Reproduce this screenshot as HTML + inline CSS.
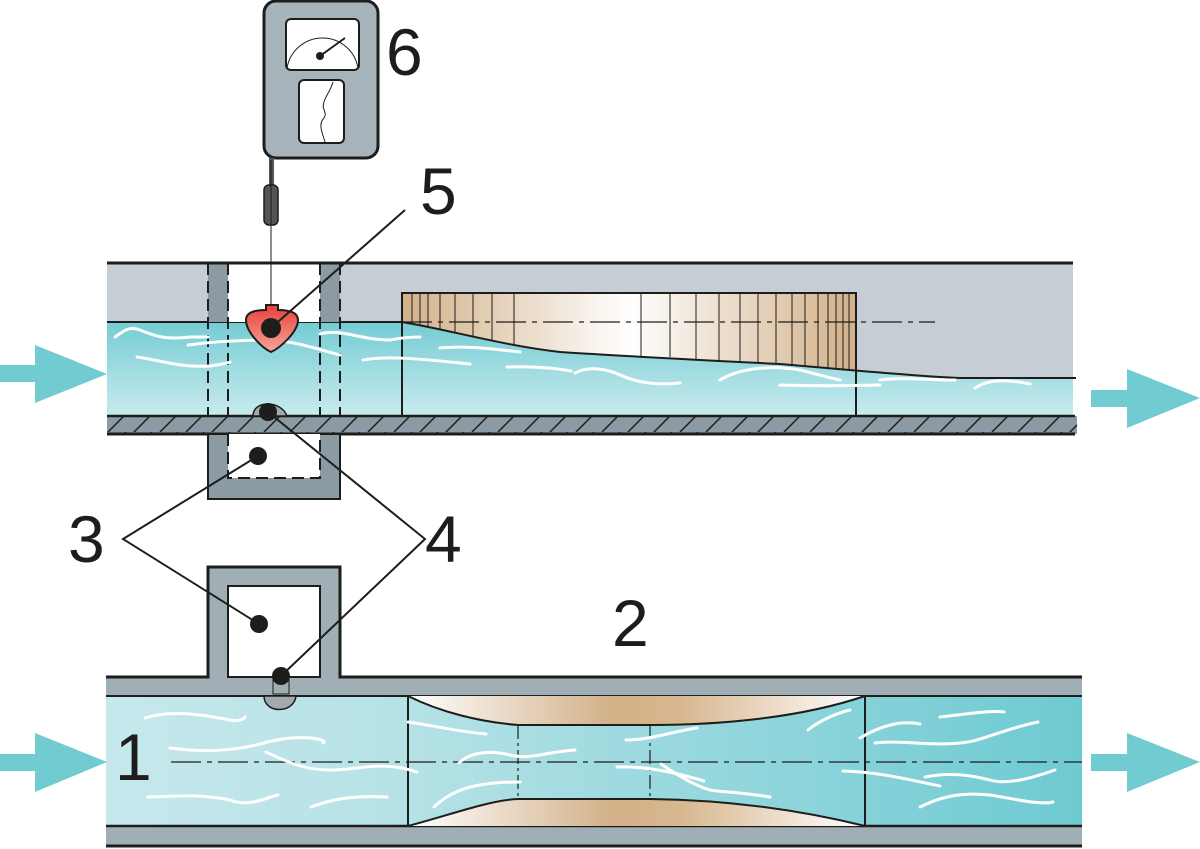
<!DOCTYPE html>
<html><head><meta charset="utf-8"><style>html,body{margin:0;padding:0;background:#fff}svg{display:block}</style></head>
<body>
<svg width="1200" height="849" viewBox="0 0 1200 849" xmlns="http://www.w3.org/2000/svg" font-family="Liberation Sans, sans-serif">
<defs>
<linearGradient id="wv" x1="0" y1="0" x2="0" y2="1"><stop offset="0" stop-color="#74ccd4"/><stop offset="1" stop-color="#c9ebee"/></linearGradient>
<linearGradient id="wh" x1="0" y1="0" x2="1" y2="0"><stop offset="0" stop-color="#c6e8ec"/><stop offset="0.3" stop-color="#b6e2e6"/><stop offset="1" stop-color="#6ecad2"/></linearGradient>
<linearGradient id="br" x1="0" y1="0" x2="1" y2="0"><stop offset="0" stop-color="#d2b088"/><stop offset="0.5" stop-color="#ffffff"/><stop offset="1" stop-color="#d2b088"/></linearGradient>
<linearGradient id="bv" gradientUnits="userSpaceOnUse" x1="408" y1="0" x2="865" y2="0"><stop offset="0" stop-color="#ffffff"/><stop offset="0.45" stop-color="#d2b088"/><stop offset="0.6" stop-color="#d8b890"/><stop offset="1" stop-color="#ffffff"/></linearGradient>
<linearGradient id="rd" x1="0" y1="0" x2="0" y2="1"><stop offset="0" stop-color="#e8403a"/><stop offset="1" stop-color="#f4a79a"/></linearGradient>
<pattern id="hatch" width="26" height="18" patternUnits="userSpaceOnUse"><line x1="4" y1="18" x2="22" y2="0" stroke="#1d1d1b" stroke-width="1.5"/></pattern>
</defs>

<!-- ===== TOP CHANNEL ===== -->
<rect x="107" y="263" width="966" height="153" fill="#c6cdd4"/>
<path d="M107 322 L402 322 C450 330 500 345 560 352 C620 356 700 360 780 364 L861 371 C900 374 930 377 960 378 L1073 378 L1073 416 L107 416 Z" fill="url(#wv)"/>
<path d="M402 293 L856 293 L856 371 L780 364 C700 360 620 356 560 352 C500 345 450 330 402 322 Z" fill="url(#br)"/>
<g stroke="#1d1d1b" stroke-width="1">
<line x1="412" y1="293" x2="412" y2="324"/><line x1="420" y1="293" x2="420" y2="325"/><line x1="428" y1="293" x2="428" y2="327"/><line x1="440" y1="293" x2="440" y2="329"/><line x1="455" y1="293" x2="455" y2="332"/><line x1="473" y1="293" x2="473" y2="336"/><line x1="492" y1="293" x2="492" y2="340"/><line x1="514" y1="293" x2="514" y2="344"/>
<line x1="641" y1="293" x2="641" y2="356"/><line x1="670" y1="293" x2="670" y2="357"/><line x1="696" y1="293" x2="696" y2="359"/><line x1="719" y1="293" x2="719" y2="360"/><line x1="740" y1="293" x2="740" y2="361"/><line x1="758" y1="293" x2="758" y2="362"/><line x1="776" y1="293" x2="776" y2="363"/><line x1="792" y1="293" x2="792" y2="365"/><line x1="805" y1="293" x2="805" y2="366"/><line x1="818" y1="293" x2="818" y2="367"/><line x1="828" y1="293" x2="828" y2="368"/><line x1="836" y1="293" x2="836" y2="369"/><line x1="843" y1="293" x2="843" y2="370"/><line x1="849" y1="293" x2="849" y2="370"/>
</g>
<path d="M402 416 L402 293 L856 293 L856 416" fill="none" stroke="#1d1d1b" stroke-width="2"/>
<path d="M107 322 L402 322 C450 330 500 345 560 352 C620 356 700 360 780 364 L861 371 C900 374 930 377 960 378 L1076 378" fill="none" stroke="#1d1d1b" stroke-width="2"/>
<line x1="402" y1="322" x2="935" y2="322" stroke="#1d1d1b" stroke-width="1.3" stroke-dasharray="30 6 5 6"/>
<rect x="208" y="263" width="20" height="59" fill="#8c9ba3"/>
<rect x="320" y="263" width="20" height="59" fill="#8c9ba3"/>
<rect x="228" y="263" width="92" height="59" fill="#fff"/>
<g stroke="#1d1d1b" stroke-width="2" stroke-dasharray="12 6">
<line x1="208" y1="263" x2="208" y2="462"/><line x1="228" y1="263" x2="228" y2="478"/>
<line x1="320" y1="263" x2="320" y2="478"/><line x1="340" y1="263" x2="340" y2="462"/>
</g>
<line x1="107" y1="263" x2="1073" y2="263" stroke="#1d1d1b" stroke-width="3"/>
<rect x="107" y="416" width="970" height="18" fill="#8c9ba3"/>
<rect x="107" y="416" width="970" height="18" fill="url(#hatch)"/>
<line x1="107" y1="416" x2="1075" y2="416" stroke="#1d1d1b" stroke-width="2.5"/>
<line x1="107" y1="434" x2="1075" y2="434" stroke="#1d1d1b" stroke-width="3"/>
<path d="M208 434 L208 499 L340 499 L340 434 Z" fill="#8c9ba3" stroke="#1d1d1b" stroke-width="2"/>
<rect x="228" y="434" width="92" height="44" fill="#fff"/>
<path d="M228 434 L228 478 L320 478 L320 434" fill="none" stroke="#1d1d1b" stroke-width="2" stroke-dasharray="12 6"/>

<g fill="none" stroke="#fff" stroke-width="3" stroke-linecap="round">
<path d="M115 337 C125 330 130 326 140 330 C155 336 165 340 190 337 L208 337"/>
<path d="M188 345 C210 342 240 340 270 340 C300 342 320 350 340 355"/>
<path d="M137 357 C160 360 180 368 210 366 C225 364 230 362 230 362"/>
<path d="M320 334 C340 328 360 340 390 340 C400 338 410 337 420 337"/>
<path d="M363 360 C390 355 430 360 470 364"/>
<path d="M440 348 C470 345 500 350 520 352"/>
<path d="M507 367 C530 366 555 368 571 371"/>
<path d="M575 373 C590 365 610 370 620 375 C640 384 660 385 680 383"/>
<path d="M720 380 C740 368 770 365 800 370 C820 375 830 378 840 380"/>
<path d="M780 385 C810 386 840 386 880 385"/>
<path d="M880 380 C900 377 930 380 955 380"/>
<path d="M975 388 C990 378 1010 380 1030 384"/>
</g>
<line x1="271" y1="225" x2="271" y2="305" stroke="#1d1d1b" stroke-width="1"/>
<path d="M266 305 L266 310 C255 310 246 312 246 320 C246 332 262 348 271 352 C280 348 298 332 298 320 C298 312 288 310 278 310 L278 305 Z" fill="url(#rd)" stroke="#1d1d1b" stroke-width="2"/>
<path d="M253 416 C253 400 281 400 287 416 Z" fill="#a5a9ad" stroke="#1d1d1b" stroke-width="1.5"/>

<!-- gauge -->
<rect x="264" y="1" width="114" height="157" rx="12" fill="#a6b3ba" stroke="#1d1d1b" stroke-width="3"/>
<rect x="286" y="19" width="73" height="51" rx="5" fill="#fff" stroke="#1d1d1b" stroke-width="2"/>
<path d="M287 68 A36 36 0 0 1 358 68" fill="none" stroke="#1d1d1b" stroke-width="1"/>
<line x1="320" y1="56" x2="345" y2="38" stroke="#1d1d1b" stroke-width="2"/>
<circle cx="320" cy="56" r="4" fill="#1d1d1b"/>
<rect x="299" y="80" width="45" height="63" rx="5" fill="#fff" stroke="#1d1d1b" stroke-width="2"/>
<path d="M333 82 C330 92 326 95 324 102 C321 110 328 112 324 118 C318 124 322 132 325 142" fill="none" stroke="#1d1d1b" stroke-width="1"/>
<rect x="269" y="158" width="5" height="30" fill="#555"/>
<rect x="264" y="185" width="14" height="40" rx="5" fill="#555" stroke="#1d1d1b" stroke-width="1.5"/>
<line x1="271" y1="160" x2="271" y2="225" stroke="#1d1d1b" stroke-width="1"/>

<!-- ===== BOTTOM PIPE ===== -->
<rect x="106" y="696" width="976" height="130" fill="url(#wh)"/>
<path d="M106 677 L208 677 L208 567 L340 567 L340 677 L1082 677 L1082 696 L106 696 Z" fill="#a0aeb5"/>
<rect x="228" y="586" width="92" height="91" fill="#fff" stroke="#1d1d1b" stroke-width="2"/>
<path d="M106 677 L208 677 L208 567 L340 567 L340 677 L1082 677" fill="none" stroke="#1d1d1b" stroke-width="3"/>
<rect x="106" y="826" width="976" height="20" fill="#a0aeb5"/>
<line x1="106" y1="696" x2="1082" y2="696" stroke="#1d1d1b" stroke-width="2"/>
<line x1="106" y1="826" x2="1082" y2="826" stroke="#1d1d1b" stroke-width="2.5"/>
<line x1="106" y1="846" x2="1082" y2="846" stroke="#1d1d1b" stroke-width="3"/>
<path d="M408 696 C440 712 480 722 518 725 L650 725 C720 725 800 718 865 696 Z" fill="url(#bv)"/>
<path d="M408 826 C450 815 490 800 518 799 L650 799 C730 800 800 810 865 826 Z" fill="url(#bv)"/>
<path d="M408 696 C440 712 480 722 518 725 L650 725 C720 725 800 718 865 696" fill="none" stroke="#1d1d1b" stroke-width="2"/>
<path d="M408 826 C450 815 490 800 518 799 L650 799 C730 800 800 810 865 826" fill="none" stroke="#1d1d1b" stroke-width="2"/>
<line x1="408" y1="696" x2="408" y2="826" stroke="#1d1d1b" stroke-width="2"/>
<line x1="865" y1="696" x2="865" y2="826" stroke="#1d1d1b" stroke-width="2"/>
<line x1="518" y1="725" x2="518" y2="799" stroke="#1d1d1b" stroke-width="1.2" stroke-dasharray="14 4 3 4"/>
<line x1="650" y1="725" x2="650" y2="799" stroke="#1d1d1b" stroke-width="1.2" stroke-dasharray="14 4 3 4"/>
<line x1="171" y1="762" x2="1082" y2="762" stroke="#1d1d1b" stroke-width="1.3" stroke-dasharray="30 6 5 6"/>
<g fill="none" stroke="#fff" stroke-width="3" stroke-linecap="round">
<path d="M145 718 C170 710 200 714 230 720 C240 722 245 718 245 717"/>
<path d="M170 748 C200 752 230 752 260 744 C300 732 330 740 323 743"/>
<path d="M266 752 C280 758 300 770 330 770 C360 770 380 760 417 772"/>
<path d="M148 797 C180 796 200 794 230 800 C250 808 270 796 278 795"/>
<path d="M311 807 C330 800 350 795 387 797"/>
<path d="M408 722 C430 725 460 732 486 734"/>
<path d="M459 763 C470 752 490 750 510 755 C530 760 545 752 575 750"/>
<path d="M434 807 C450 792 470 782 520 782"/>
<path d="M626 740 C650 740 670 732 697 728"/>
<path d="M617 767 C650 766 680 774 704 781"/>
<path d="M661 764 C670 770 690 784 710 790 C720 792 740 792 770 797"/>
<path d="M808 730 C820 720 840 712 850 710"/>
<path d="M875 743 C900 740 930 746 960 743 C980 742 1000 730 1038 722"/>
<path d="M860 738 C880 726 900 720 920 724"/>
<path d="M940 717 C960 715 990 710 1004 712"/>
<path d="M843 771 C880 772 910 780 940 786"/>
<path d="M925 777 C950 772 970 775 990 780 C1010 786 1040 775 1055 770"/>
<path d="M920 807 C940 797 960 792 990 795 C1020 800 1040 805 1053 802"/>
</g>
<rect x="273" y="676" width="16" height="18" fill="#a0aeb5" stroke="#1d1d1b" stroke-width="1"/>
<path d="M264 696 C264 714 294 714 296 696 Z" fill="#a5a9ad" stroke="#1d1d1b" stroke-width="1.5"/>

<!-- leaders -->
<g stroke="#1d1d1b" stroke-width="2" fill="none">
<path d="M271 328 L405 210"/>
<path d="M258 456 L123 539 L259 624"/>
<path d="M268 412 L425 539 L281 676"/>
</g>
<circle cx="271" cy="328" r="10" fill="#1d1d1b"/>
<circle cx="268" cy="412" r="9" fill="#1d1d1b"/>
<circle cx="258" cy="456" r="9" fill="#1d1d1b"/>
<circle cx="259" cy="624" r="9" fill="#1d1d1b"/>
<circle cx="281" cy="676" r="9" fill="#1d1d1b"/>

<g fill="#71ccd2">
<path d="M0 365 L35 365 L35 345 L107 374 L35 403 L35 382 L0 382 Z"/>
<path d="M1091 390 L1127 390 L1127 369 L1200 398 L1127 428 L1127 407 L1091 407 Z"/>
<path d="M0 754 L35 754 L35 733 L107 762 L35 792 L35 771 L0 771 Z"/>
<path d="M1091 754 L1127 754 L1127 733 L1200 762 L1127 792 L1127 771 L1091 771 Z"/>
</g>

<g font-size="66" fill="#1d1d1b">
<text x="386" y="75">6</text>
<text x="420" y="214">5</text>
<text x="68" y="562">3</text>
<text x="425" y="562">4</text>
<text x="612" y="646">2</text>
<text x="115" y="780">1</text>
</g>
</svg>
</body></html>
